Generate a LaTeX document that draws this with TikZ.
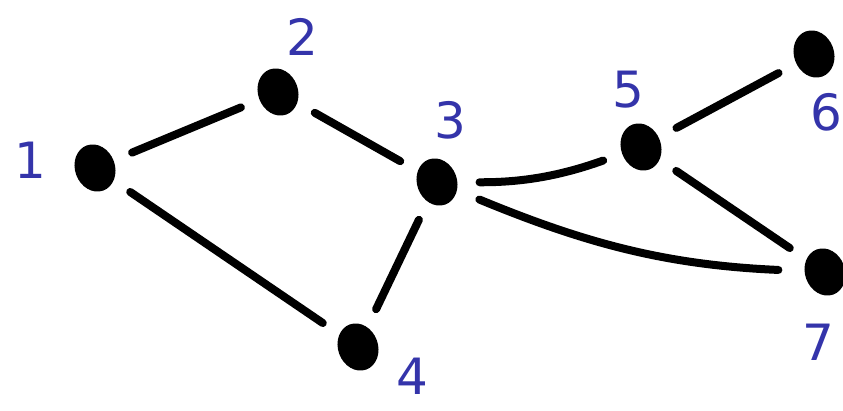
\documentclass[tikz,border=0pt]{standalone}
\usepackage{fontspec}
\setmainfont{DejaVu Sans}
\usetikzlibrary{shapes.geometric}
\definecolor{tintabiru}{RGB}{52,52,170}

\begin{document}
\begin{tikzpicture}[x=1pt, y=-1pt,
    titik/.style={ellipse, fill=black, minimum width=40pt, minimum height=48pt, inner sep=0pt, rotate=20},
    angka/.style={text=tintabiru, font=\fontsize{50}{50}\selectfont},
    sisi/.style={line width=8pt, line cap=round, shorten <=20pt, shorten >=20pt}]
                \useasboundingbox (0,0) rectangle (843,411);
                \node[titik] (n1) at (95,168) {};
                \node[titik] (n2) at (278,92) {};
                \node[titik] (n3) at (437,182) {};
                \node[titik] (n4) at (358,347) {};
                \node[titik] (n5) at (641,147) {};
                \node[titik] (n6) at (814,54) {};
                \node[titik] (n7) at (825,272) {};
                \node[angka] (l1) at (30,160) {1};
                \node[angka] (l2) at (302,37) {2};
                \node[angka] (l3) at (450,120) {3};
                \node[angka] (l4) at (412,376) {4};
                \node[angka] (l5) at (628,90) {5};
                \node[angka] (l6) at (826,112) {6};
                \node[angka] (l7) at (818,342) {7};
                \draw[sisi] (n1) -- (n2);
                \draw[sisi] (n2) -- (n3);
                \draw[sisi] (n1) -- (n4);
                \draw[sisi] (n3) -- (n4);
                \draw[sisi, shorten <=22pt] (n3) to[out=-5, in=195] (n5);
                \draw[sisi, shorten <=24pt, shorten >=26pt] (n3) to[out=-25, in=175] (n7);
                \draw[sisi] (n5) -- (n6);
                \draw[sisi] (n5) -- (n7);
            \end{tikzpicture}
\end{document}
